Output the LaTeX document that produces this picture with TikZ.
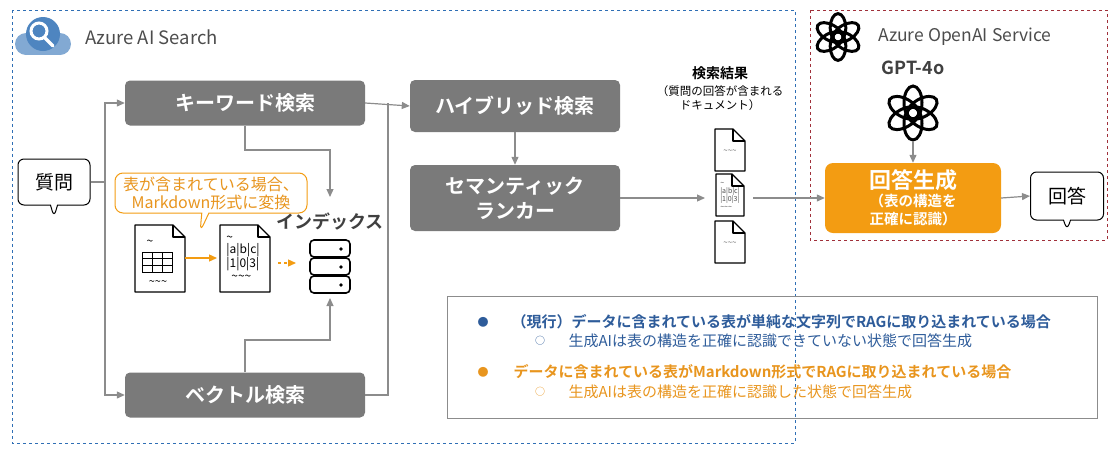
\documentclass[tikz,border=0pt]{standalone}
\usepackage{fontspec}
\setmainfont{Noto Sans CJK JP}[BoldFont={Noto Sans CJK JP Bold}]
\usetikzlibrary{positioning,arrows.meta,shapes.callouts}
\definecolor{boxgray}{HTML}{7A7A7A}
\definecolor{lngray}{HTML}{8C8C8C}
\definecolor{aorange}{HTML}{F39C12}
\definecolor{tblue}{HTML}{2E5C9A}
\definecolor{torange}{HTML}{E8951E}
\definecolor{azblue}{HTML}{2F6FB5}
\definecolor{azred}{HTML}{A0303A}
\tikzset{
  graybox/.style={draw=none,fill=boxgray,rounded corners=5pt,text=white,font=\bfseries\fontsize{20}{25}\selectfont,align=center},
  flow/.style={draw=lngray,line width=1.2pt,-{Triangle[length=8pt,width=7pt]}},
  plain/.style={draw=lngray,line width=1.2pt},
  docline/.style={draw=black,line width=1.3pt,line join=round},
  legend/.style={anchor=west,font=\fontsize{15}{18}\selectfont},
}
% document icon: lower-left corner, width, height
\newcommand\docicon[4]{%
  \draw[docline,fill=white] (#1,#2) -- ++(0,-#4) -- ++(#3-12,0) -- ++(12,12) -- ++(0,#4-12) -- cycle;
  \draw[docline] (#1+#3-12,#2-#4) -- ++(0,12) -- ++(12,0);
}
\begin{document}
\begin{tikzpicture}[x=1pt,y=-1pt]
\useasboundingbox (0,0) rectangle (1114,448);

% frames
\draw[azblue,dashed,line width=1pt] (12,10) rectangle (795,443);
\draw[azred,dashed,line width=1pt] (810,10) rectangle (1107,240);

% azure search icon
\fill[azblue!60] (26,44) circle (11pt) (60,44) circle (11pt);
\fill[azblue!60] (26,33) rectangle (60,55);
\fill[azblue!85] (43,34) circle (17pt);
\draw[white,line width=3pt] (39,31) circle (8pt);
\draw[white,line width=3.5pt,line cap=round] (45,38) -- (53,46);
\node[anchor=west,text=black!70,font=\fontsize{18.5}{22}\selectfont] (azs) at (82,37) {Azure AI Search};

% openai logos
\foreach \lx/\ly/\s in {838/37/1.3, 913/113/1.5}{
  \begin{scope}[shift={(\lx,\ly)},scale=\s]
    \foreach \a in {0,60,...,300}
      \draw[black,line width=3pt,rotate=\a] (0,-7) ellipse [x radius=6,y radius=11];
  \end{scope}
}
\node[anchor=west,text=black!70,font=\fontsize{17.5}{21}\selectfont] (aos) at (875,37) {Azure OpenAI Service};
\node[font=\bfseries\fontsize{18}{21}\selectfont,text=black!75] (gpt) at (913,68) {GPT-4o};
\coordinate (logo) at (913,141);

% question
\node[rectangle callout,draw=black,line width=1pt,rounded corners=6pt,fill=white,minimum width=72pt,minimum height=46pt,
  callout relative pointer={(0,-12pt)},font=\fontsize{19}{22}\selectfont] (q) at (54,182) {質問};

% search boxes
\node[graybox,minimum width=240pt,minimum height=45pt] (kw) at (245,103) {キーワード検索};
\node[graybox,minimum width=240pt,minimum height=45pt] (vec) at (245,395) {ベクトル検索};
\node[graybox,minimum width=210pt,minimum height=52pt] (hyb) at (515,106) {ハイブリッド検索};
\node[graybox,minimum width=210pt,minimum height=66pt] (sem) at (515,198) {セマンティック\\ランカー};

% index
\node[font=\bfseries\fontsize{18}{21}\selectfont,text=black!75] (idxlbl) at (330,222) {インデックス};
\begin{scope}[line width=1.6pt]
  \foreach \y in {240,258,276}{
    \draw[fill=white,rounded corners=4pt] (310,\y) rectangle (350,\y+17);
    \fill (341,\y+9) circle (1.8pt);
  }
\end{scope}
\coordinate (idxtop) at (330,197);
\coordinate (idxbot) at (330,298);

% connectors
\coordinate (split) at (105,182);
\draw[plain] (q.east) -- (split);
\draw[flow] (split) |- (kw.west);
\draw[flow] (split) |- (vec.west);
\draw[flow] (kw.east) -- (hyb.west);
\draw[plain] (vec.east) -| (388,103);
\draw[flow] (kw.south) |- (330,150) -- (idxtop);
\draw[flow] (vec.north) |- (330,340) -- (idxbot);
\draw[flow] (hyb.south) -- (sem.north);

% orange note and docs
\node[rectangle callout,draw=aorange,line width=1pt,rounded corners=8pt,fill=white,text=torange,align=center,
  minimum width=192pt,minimum height=40pt,inner sep=1pt,callout absolute pointer={(200,232)},
  font=\fontsize{16}{18}\selectfont] (note) at (211,193) {表が含まれている場合、\\Markdown形式に変換};
\docicon{135}{292}{50}{67}
\node[font=\fontsize{12}{12}\selectfont] (t1) at (150,243) {\textasciitilde};
\draw[line width=0.8pt] (142,252) rectangle (172,272) (152,252) -- (152,272) (162,252) -- (162,272) (142,258.7) -- (172,258.7) (142,265.4) -- (172,265.4);
\node[font=\fontsize{11}{11}\selectfont] (w1) at (158,283) {\textasciitilde\textasciitilde\textasciitilde};
\docicon{220}{292}{50}{67}
\node[font=\fontsize{12}{12.5}\selectfont,align=left,inner sep=0pt] (t2) at (243,258) {\textasciitilde\\|a|b|c|\\|1|0|3|\\\hspace*{5pt}\textasciitilde\textasciitilde\textasciitilde};
\coordinate (d1r) at (185,258);
\coordinate (d2l) at (217,258);
\draw[aorange,line width=1.3pt,-{Triangle[length=8pt,width=7pt]}] (d1r) -- (d2l);
\draw[aorange,line width=1.3pt,dashed,-{Triangle[length=8pt,width=7pt]}] (278,263) -- (296,263);

% search results
\node[font=\bfseries\fontsize{14}{16}\selectfont] (res) at (720,73) {検索結果};
\node[font=\fontsize{11.5}{14}\selectfont,align=center] (resd) at (720,98) {（質問の回答が含まれる\\ドキュメント）};
\docicon{715}{171}{30}{42}
\node[font=\fontsize{8}{8}\selectfont,text=black!60] at (730,152) {\textasciitilde\textasciitilde\textasciitilde};
\docicon{716}{216}{28}{42}
\node[font=\fontsize{7}{7.5}\selectfont,align=left,inner sep=0pt,text=black!70] (docmid) at (730,196) {\textasciitilde\\|a|b|c|\\|1|0|3|\\\textasciitilde\textasciitilde\textasciitilde};
\docicon{715}{263}{30}{42}
\node[font=\fontsize{8}{8}\selectfont,text=black!60] at (730,244) {\textasciitilde\textasciitilde\textasciitilde};
\coordinate (dml) at (705,198);
\coordinate (dmr) at (753,198);
\draw[flow] (sem.east) -- (dml);

% answer
\node[draw=none,fill=aorange,rounded corners=8pt,text=white,align=center,minimum width=176pt,minimum height=70pt,inner sep=1pt,
  font=\bfseries\fontsize{14.5}{18}\selectfont] (gen) at (913,198) {{\fontsize{22}{24}\selectfont 回答生成}\\（表の構造を\\正確に認識）};
\draw[flow] (dmr) -- (gen.west);
\draw[flow] (logo) -- (gen.north);
\node[rectangle callout,draw=black,line width=1pt,rounded corners=6pt,fill=white,minimum width=73pt,minimum height=48pt,
  callout relative pointer={(0,-10pt)},font=\fontsize{19}{22}\selectfont] (ans) at (1067,196) {回答};
\draw[flow] (gen.east) -- (ans.west);

% legend panel
\node[draw=lngray,line width=1pt,minimum width=650pt,minimum height=122pt] (panel) at (772,357) {};
\node[text=tblue,font=\fontsize{11}{14}\selectfont] at (483,322) {●};
\node[legend,text=tblue,font=\bfseries\fontsize{15}{18}\selectfont] at (508,322) {（現行）データに含まれている表が単純な文字列でRAGに取り込まれている場合};
\node[text=tblue,font=\fontsize{10}{12}\selectfont] at (540,341) {○};
\node[legend,text=tblue] at (565,341) {生成AIは表の構造を正確に認識できていない状態で回答生成};
\node[text=torange,font=\fontsize{11}{14}\selectfont] at (483,372) {●};
\node[legend,text=torange,font=\bfseries\fontsize{15}{18}\selectfont] at (510,372) {データに含まれている表がMarkdown形式でRAGに取り込まれている場合};
\node[text=torange,font=\fontsize{10}{12}\selectfont] at (540,392) {○};
\node[legend,text=torange] at (565,392) {生成AIは表の構造を正確に認識した状態で回答生成};
\end{tikzpicture}
\end{document}
